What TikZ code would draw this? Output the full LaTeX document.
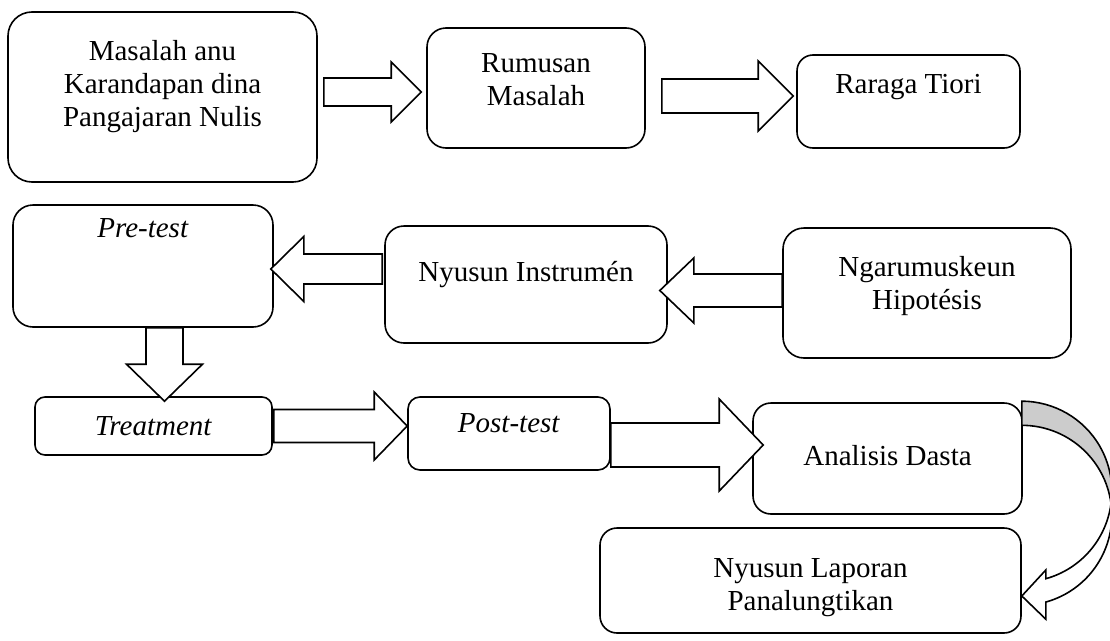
\documentclass[tikz,border=0pt]{standalone}
\usepackage{fontspec}
\setmainfont{Liberation Serif}
\usetikzlibrary{calc}
\tikzstyle{bx}=[draw=black, line width=1.6pt, shape=rectangle, inner sep=0pt]
\tikzstyle{tx}=[align=center, font=\fontsize{29}{33}\selectfont, inner sep=0pt]
\tikzstyle{blk}=[draw=black, fill=white, line width=1.6pt, line join=miter]
% block arrow: start, tip, shaft half width, head half width, head length
\newcommand{\blockarrow}[5]{%
  \coordinate (hb) at ($(#2)!#5!(#1)$);
  \draw [blk] ($(#1)!#3!90:(#2)$) -- ($(hb)!#3!90:(#2)$) -- ($(hb)!#4!90:(#2)$)
    -- (#2) -- ($(hb)!#4!-90:(#2)$) -- ($(hb)!#3!-90:(#2)$) -- ($(#1)!#3!-90:(#2)$) -- cycle;}

\begin{document}
\begin{tikzpicture}[x=1pt, y=-1pt]
    \useasboundingbox (0,0) rectangle (1110,640);

    \node [bx, minimum width=309pt, minimum height=170pt, rounded corners=24pt] (m1) at (162.5, 97) {};
    \node [bx, minimum width=218pt, minimum height=120pt, rounded corners=19pt] (m2) at (536, 88) {};
    \node [bx, minimum width=223pt, minimum height=93pt, rounded corners=16pt] (m3) at (908.5, 101.5) {};
    \node [bx, minimum width=260pt, minimum height=122pt, rounded corners=20pt] (m4) at (143, 266) {};
    \node [bx, minimum width=282pt, minimum height=117pt, rounded corners=19pt] (m5) at (526, 284.5) {};
    \node [bx, minimum width=288pt, minimum height=130pt, rounded corners=21pt] (m6) at (927, 293) {};
    \node [bx, minimum width=237pt, minimum height=58pt, rounded corners=10pt] (m7) at (153.5, 426) {};
    \node [bx, minimum width=202pt, minimum height=73pt, rounded corners=12pt] (m8) at (509, 433.5) {};
    \node [bx, minimum width=269pt, minimum height=111pt, rounded corners=18pt] (m9) at (887.5, 458.5) {};
    \node [bx, minimum width=421pt, minimum height=105pt, rounded corners=17pt] (m10) at (810.5, 580.5) {};

    \node [tx] (t1) at ([yshift=10pt]m1.center) {Masalah anu\\Karandapan dina\\Pangajaran Nulis};
    \node [tx] (t2) at ([yshift=8pt]m2.center) {Rumusan\\Masalah};
    \node [tx] (t3) at ([yshift=14pt]m3.center) {Raraga Tiori};
    \node [tx] (t4) at ([yshift=38pt]m4.center) {\textit{Pre-test}};
    \node [tx] (t5) at ([yshift=10pt]m5.center) {Nyusun Instrumén};
    \node [tx] (t6) at ([yshift=7pt]m6.center) {Ngarumuskeun\\Hipotésis};
    \node [tx] (t7) at (m7.center) {\textit{Treatment}};
    \node [tx] (t8) at ([yshift=10pt]m8.center) {\textit{Post-test}};
    \node [tx] (t9) at ([yshift=3pt]m9.center) {Analisis Dasta};
    \node [tx] (t10) at ([yshift=-7pt]m10.center) {Nyusun Laporan\\Panalungtikan};

    % arrow ends
    \coordinate (a12s) at ([xshift=6pt, yshift=5pt]m1.east);
    \coordinate (a12t) at ([xshift=-5pt, yshift=-4pt]m2.west);
    \coordinate (a23s) at ([xshift=16pt, yshift=-8pt]m2.east);
    \coordinate (a23t) at ([xshift=-3pt, yshift=5.5pt]m3.west);
    \coordinate (a54s) at ([xshift=-2pt, yshift=15.5pt]m5.west);
    \coordinate (a54t) at ([xshift=-3pt, yshift=-3pt]m4.east);
    \coordinate (a65s) at ([yshift=2.5pt]m6.west);
    \coordinate (a65t) at ([xshift=-8pt, yshift=-6pt]m5.east);
    \coordinate (a47s) at ([xshift=21.5pt]m4.south);
    \coordinate (a47t) at ([xshift=11pt, yshift=-5pt]m7.north);
    \coordinate (a78s) at ([xshift=1pt]m7.east);
    \coordinate (a78t) at ([yshift=7.5pt]m8.west);
    \coordinate (a89s) at ([yshift=-11.5pt]m8.east);
    \coordinate (a89t) at ([xshift=11pt, yshift=13.5pt]m9.west);
    \coordinate (c0) at ([xshift=-1pt, yshift=1pt]m9.north east);
    \coordinate (c1) at ([yshift=-15.5pt]m10.east);

    \blockarrow{a12s}{a12t}{14pt}{30pt}{30pt}
    \blockarrow{a23s}{a23t}{17pt}{35pt}{35pt}
    \blockarrow{a54s}{a54t}{15pt}{32.5pt}{33pt}
    \blockarrow{a65s}{a65t}{16.5pt}{32.5pt}{34pt}
    \blockarrow{a47s}{a47t}{18.5pt}{38pt}{37pt}
    \blockarrow{a78s}{a78t}{16.5pt}{34pt}{33pt}
    \blockarrow{a89s}{a89t}{22pt}{46pt}{44pt}

    % curved arrow, back side then front side
    \draw [blk, fill=black!20] (c0) arc[start angle=-90, end angle=7.7, radius=90] coordinate (cx)
        arc[start angle=-7.7, end angle=-90, radius=90] -- cycle;
    \draw [blk] (cx) arc[start angle=-7.7, end angle=74.5, radius=90] -- ++(0,17.2)
        -- (c1) -- ++(24,-26) -- ++(0,8.7) arc[start angle=74.5, end angle=7.7, radius=90] -- cycle;
  \end{tikzpicture}
\end{document}
